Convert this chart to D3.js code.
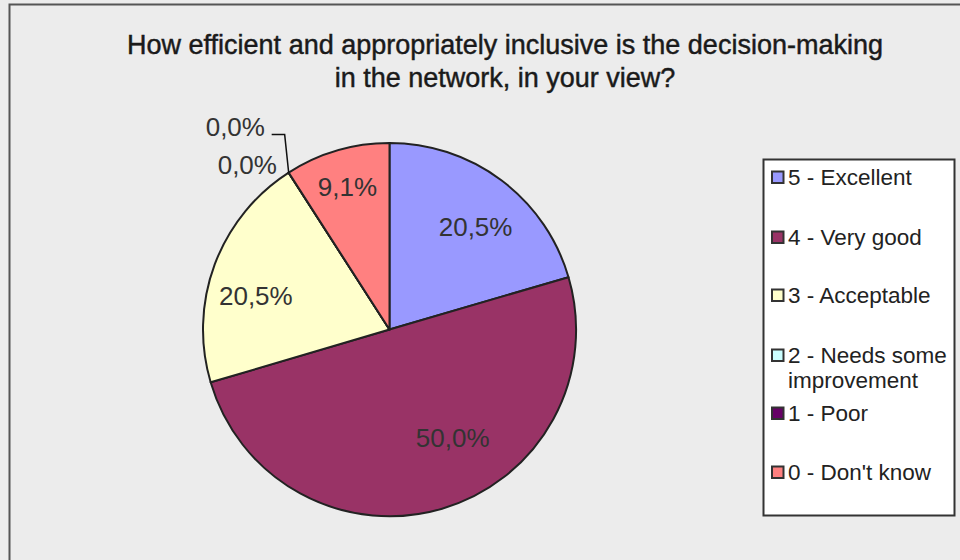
<!DOCTYPE html>
<html>
<head>
<meta charset="utf-8">
<script src="https://cdn.jsdelivr.net/npm/d3@7"></script>
<style>
  html, body { margin: 0; padding: 0; background: #ececec; }
  svg { display: block; }
  text { font-family: "Liberation Sans", Arial, sans-serif; }
</style>
</head>
<body>
<svg id="chart" width="960" height="560"></svg>
<script>
// Survey answers, in drawing order (clockwise from 12 o'clock)
const categories = ["5 - Excellent", "4 - Very good", "3 - Acceptable",
                    "2 - Needs some improvement", "1 - Poor", "0 - Don't know"];
const legendLines = [["5 - Excellent"], ["4 - Very good"], ["3 - Acceptable"],
                     ["2 - Needs some", "improvement"], ["1 - Poor"], ["0 - Don't know"]];
const percents = [20.5, 50.0, 20.5, 0.0, 0.0, 9.1];
const colors = ["#9999ff", "#993366", "#ffffcc", "#ccffff", "#660066", "#ff8080"];
const titleLines = ["How efficient and appropriately inclusive is the decision-making",
                    "in the network, in your view?"];

// Label placement inside slices: [radius fraction, angle shift in degrees]
const labelPlace = [[0.72, 3], [0.67, -14], [0.74, -6], null, null, [0.8, 0]];

const svg = d3.select("#chart");

// Chart frame
svg.append("rect")
  .attr("x", 9.5).attr("y", 4.5).attr("width", 960).attr("height", 560)
  .attr("fill", "#ececec").attr("stroke", "#555").attr("stroke-width", 2);

// Title
svg.append("text")
  .attr("text-anchor", "middle")
  .attr("font-size", 27).attr("fill", "#1a1a1a")
  .attr("stroke", "#1a1a1a").attr("stroke-width", 0.45)
  .selectAll("tspan").data(titleLines).join("tspan")
  .attr("x", 505).attr("y", (d, i) => 54 + i * 33)
  .text(d => d);

const fmt = v => d3.format(".1f")(v).replace(".", ",") + "%";

const cx = 389.5, cy = 329.5, r = 186.5;
const pie = d3.pie().sort(null).value(d => d.v);
const arcs = pie(percents.map((v, i) => ({ v, i })));
const arc = d3.arc().innerRadius(0).outerRadius(r);

const g = svg.append("g").attr("transform", `translate(${cx},${cy})`);
g.selectAll("path").data(arcs).join("path")
  .attr("d", arc)
  .attr("fill", d => colors[d.data.i])
  .attr("stroke", "#222").attr("stroke-width", 2).attr("stroke-linejoin", "round");

// Value labels inside the non-empty slices
const labelPos = d => {
  const [f, shift] = labelPlace[d.data.i];
  const a = (d.startAngle + d.endAngle) / 2 + shift * Math.PI / 180;
  return [Math.sin(a) * r * f, -Math.cos(a) * r * f];
};
g.selectAll("text.val").data(arcs.filter(d => d.data.v > 0)).join("text")
  .attr("class", "val")
  .attr("transform", d => `translate(${labelPos(d)})`)
  .attr("text-anchor", "middle").attr("dy", "0.36em")
  .attr("font-size", 26).attr("fill", "#333")
  .text(d => fmt(d.data.v));

// Zero-valued slices: labels outside, next to the shared boundary point
const zeros = arcs.filter(d => d.data.v === 0);
const edge = d3.arc().innerRadius(r).outerRadius(r);
const p0 = edge.centroid(zeros[0]);
g.append("text")
  .attr("x", p0[0] - 71).attr("y", p0[1] + 1)
  .attr("font-size", 26).attr("fill", "#333")
  .text(fmt(zeros[0].data.v));
const p1 = edge.centroid(zeros[1]);
g.append("text")
  .attr("x", p1[0] - 83).attr("y", p1[1] - 37)
  .attr("font-size", 26).attr("fill", "#333")
  .text(fmt(zeros[1].data.v));
g.append("path")
  .attr("d", `M${p1[0]},${p1[1]} L${p1[0] - 4},${p1[1] - 38} L${p1[0] - 17},${p1[1] - 38}`)
  .attr("fill", "none").attr("stroke", "#111").attr("stroke-width", 1.5);

// Legend
const lg = svg.append("g");
lg.append("rect")
  .attr("x", 763.5).attr("y", 159.5).attr("width", 191).attr("height", 356)
  .attr("fill", "#fff").attr("stroke", "#333").attr("stroke-width", 2);
const itemY = [177, 237, 295, 355, 413, 472];
const items = lg.selectAll("g.item").data(categories).join("g")
  .attr("class", "item")
  .attr("transform", (d, i) => `translate(771,${itemY[i]})`);
items.append("rect")
  .attr("x", 1).attr("y", -5.5).attr("width", 11.5).attr("height", 11.5)
  .attr("fill", (d, i) => colors[i]).attr("stroke", "#333").attr("stroke-width", 2);
items.append("text")
  .attr("font-size", 22.5).attr("fill", "#222")
  .selectAll("tspan").data((d, i) => legendLines[i]).join("tspan")
  .attr("x", 17).attr("y", (d, j) => 8 + j * 25)
  .text(d => d);
</script>
</body>
</html>
